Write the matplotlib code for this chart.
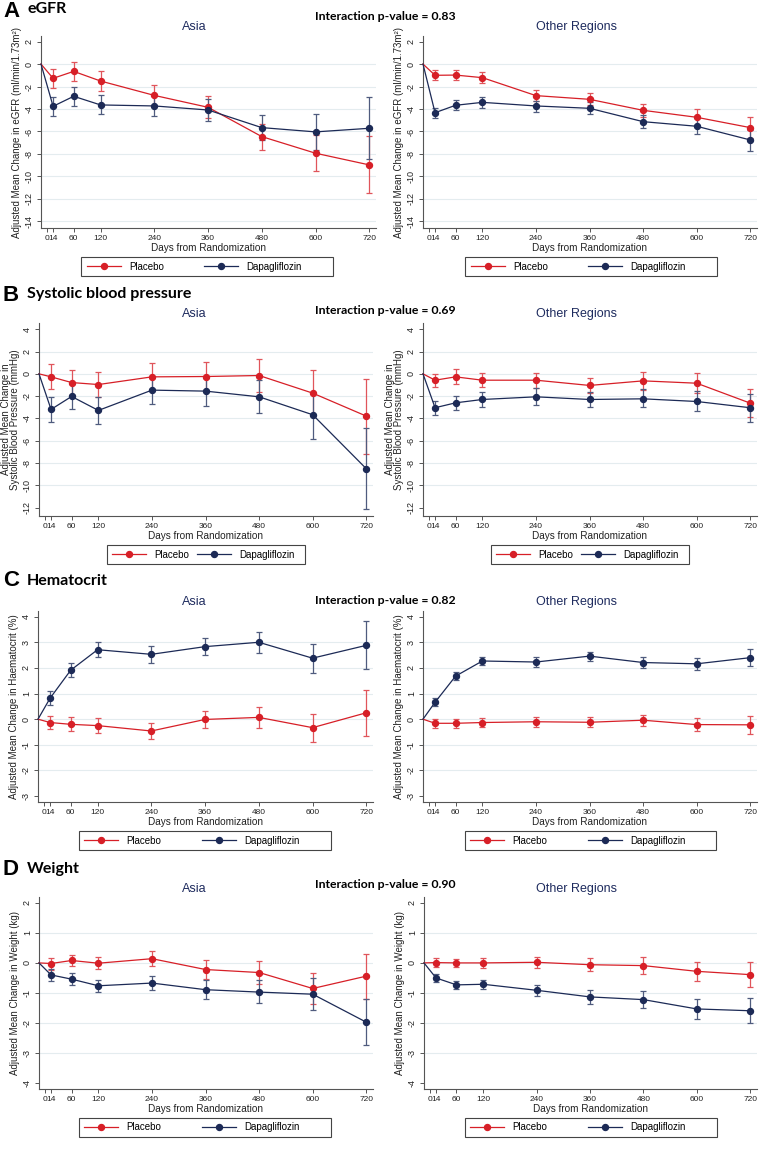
import matplotlib
matplotlib.use("Agg")
import matplotlib.pyplot as plt
from matplotlib.lines import Line2D
from matplotlib.patches import Rectangle
from matplotlib.legend import Legend
import numpy as np

# ---------------- DATA ----------------
visit_days = [14, 60, 120, 240, 360, 480, 600, 720]
baseline_day = -13
baseline_value = 0
xtick_values = [0, 14, 60, 120, 240, 360, 480, 600, 720]
arm_names = ["Placebo", "Dapagliflozin"]
region_names = ["Asia", "Other Regions"]

# eGFR
egfr_asia_pbo = [-1.27, -0.65, -1.51, -2.79, -3.85, -6.46, -7.94, -8.98]
egfr_asia_pbo_lo = [-2.13, -1.48, -2.37, -3.70, -4.80, -7.61, -9.48, -11.50]
egfr_asia_pbo_hi = [-0.44, 0.15, -0.65, -1.87, -2.87, -5.33, -6.28, -6.43]
egfr_asia_dapa = [-3.76, -2.87, -3.64, -3.73, -4.09, -5.66, -6.04, -5.72]
egfr_asia_dapa_lo = [-4.62, -3.73, -4.44, -4.62, -5.07, -6.76, -7.67, -8.44]
egfr_asia_dapa_hi = [-2.96, -2.04, -2.79, -2.76, -3.11, -4.50, -4.44, -2.96]
egfr_other_pbo = [-1.00, -0.98, -1.21, -2.81, -3.14, -4.12, -4.74, -5.66]
egfr_other_pbo_lo = [-1.45, -1.42, -1.66, -3.26, -3.67, -4.74, -5.48, -6.61]
egfr_other_pbo_hi = [-0.56, -0.53, -0.74, -2.31, -2.61, -3.53, -4.00, -4.71]
egfr_other_dapa = [-4.33, -3.67, -3.41, -3.73, -3.94, -5.13, -5.54, -6.76]
egfr_other_dapa_lo = [-4.77, -4.12, -3.88, -4.24, -4.47, -5.72, -6.22, -7.70]
egfr_other_dapa_hi = [-3.91, -3.23, -2.96, -3.26, -3.41, -4.50, -4.83, -5.90]

# Systolic blood pressure
sbp_asia_pbo = [-0.27, -0.78, -0.96, -0.27, -0.24, -0.15, -1.73, -3.79]
sbp_asia_pbo_lo = [-1.40, -1.88, -2.09, -1.40, -1.58, -1.61, -3.79, -7.19]
sbp_asia_pbo_hi = [0.84, 0.36, 0.21, 0.93, 1.10, 1.34, 0.36, -0.42]
sbp_asia_dapa = [-3.19, -2.03, -3.28, -1.46, -1.55, -2.06, -3.67, -8.51]
sbp_asia_dapa_lo = [-4.36, -3.13, -4.48, -2.69, -2.87, -3.55, -5.82, -12.09]
sbp_asia_dapa_hi = [-2.06, -0.90, -2.12, -0.33, -0.36, -0.51, -1.70, -4.87]
sbp_other_pbo = [-0.57, -0.27, -0.57, -0.57, -1.04, -0.63, -0.84, -2.63]
sbp_other_pbo_lo = [-1.22, -0.93, -1.19, -1.25, -1.76, -1.43, -1.76, -3.88]
sbp_other_pbo_hi = [0.03, 0.39, 0.09, 0.12, -0.33, 0.18, 0.09, -1.37]
sbp_other_dapa = [-3.04, -2.60, -2.30, -2.06, -2.30, -2.24, -2.48, -3.04]
sbp_other_dapa_lo = [-3.70, -3.22, -2.99, -2.75, -3.01, -3.01, -3.37, -4.33]
sbp_other_dapa_hi = [-2.42, -1.97, -1.67, -1.28, -1.64, -1.40, -1.55, -1.82]

# Hematocrit
hct_asia_pbo = [-0.13, -0.20, -0.25, -0.46, -0.01, 0.07, -0.33, 0.25]
hct_asia_pbo_lo = [-0.40, -0.48, -0.53, -0.76, -0.35, -0.35, -0.90, -0.64]
hct_asia_pbo_hi = [0.14, 0.09, 0.04, -0.16, 0.33, 0.47, 0.22, 1.12]
hct_asia_dapa = [0.82, 1.91, 2.71, 2.53, 2.83, 3.00, 2.38, 2.88]
hct_asia_dapa_lo = [0.55, 1.63, 2.42, 2.21, 2.49, 2.59, 1.82, 1.95]
hct_asia_dapa_hi = [1.11, 2.20, 3.01, 2.84, 3.18, 3.39, 2.94, 3.84]
hct_other_pbo = [-0.16, -0.16, -0.13, -0.10, -0.12, -0.04, -0.21, -0.22]
hct_other_pbo_lo = [-0.33, -0.33, -0.30, -0.29, -0.30, -0.26, -0.46, -0.56]
hct_other_pbo_hi = [0.00, 0.01, 0.04, 0.08, 0.08, 0.17, 0.04, 0.12]
hct_other_dapa = [0.66, 1.68, 2.27, 2.23, 2.46, 2.21, 2.16, 2.40]
hct_other_dapa_lo = [0.50, 1.52, 2.10, 2.05, 2.28, 2.00, 1.93, 2.06]
hct_other_dapa_hi = [0.82, 1.85, 2.44, 2.41, 2.64, 2.41, 2.40, 2.72]

# Weight
wt_asia_pbo = [-0.02, 0.08, -0.01, 0.14, -0.22, -0.32, -0.85, -0.44]
wt_asia_pbo_lo = [-0.22, -0.11, -0.21, -0.11, -0.53, -0.69, -1.36, -1.19]
wt_asia_pbo_hi = [0.17, 0.27, 0.19, 0.39, 0.08, 0.06, -0.35, 0.29]
wt_asia_dapa = [-0.40, -0.54, -0.76, -0.67, -0.89, -0.97, -1.04, -1.97]
wt_asia_dapa_lo = [-0.59, -0.73, -0.97, -0.91, -1.20, -1.33, -1.57, -2.74]
wt_asia_dapa_hi = [-0.20, -0.34, -0.56, -0.42, -0.58, -0.58, -0.51, -1.20]
wt_other_pbo = [0.01, 0.00, 0.00, 0.02, -0.06, -0.09, -0.28, -0.39]
wt_other_pbo_lo = [-0.13, -0.14, -0.16, -0.17, -0.28, -0.36, -0.61, -0.81]
wt_other_pbo_hi = [0.16, 0.13, 0.16, 0.20, 0.17, 0.20, 0.04, 0.02]
wt_other_dapa = [-0.50, -0.73, -0.71, -0.91, -1.13, -1.22, -1.53, -1.59]
wt_other_dapa_lo = [-0.63, -0.88, -0.87, -1.09, -1.36, -1.50, -1.87, -2.00]
wt_other_dapa_hi = [-0.37, -0.59, -0.57, -0.73, -0.91, -0.94, -1.20, -1.16]

panel_letters = ["A", "B", "C", "D"]
panel_titles = ["eGFR", "Systolic blood pressure", "Hematocrit", "Weight"]
interaction_p = ["0.83", "0.69", "0.82", "0.90"]
y_labels = ["Adjusted Mean Change in eGFR (ml/min/1.73m\u00b2)",
            "Adjusted Mean Change in\nSystolic Blood Pressure (mmHg)",
            "Adjusted Mean Change in Haematocrit (%)",
            "Adjusted Mean Change in Weight (kg)"]
y_ticks = [[2, 0, -2, -4, -6, -8, -10, -12, -14],
           [4, 2, 0, -2, -4, -6, -8, -10, -12],
           [4, 3, 2, 1, 0, -1, -2, -3],
           [2, 1, 0, -1, -2, -3, -4]]

panel_data = [
    [[(egfr_asia_pbo, egfr_asia_pbo_lo, egfr_asia_pbo_hi), (egfr_asia_dapa, egfr_asia_dapa_lo, egfr_asia_dapa_hi)],
     [(egfr_other_pbo, egfr_other_pbo_lo, egfr_other_pbo_hi), (egfr_other_dapa, egfr_other_dapa_lo, egfr_other_dapa_hi)]],
    [[(sbp_asia_pbo, sbp_asia_pbo_lo, sbp_asia_pbo_hi), (sbp_asia_dapa, sbp_asia_dapa_lo, sbp_asia_dapa_hi)],
     [(sbp_other_pbo, sbp_other_pbo_lo, sbp_other_pbo_hi), (sbp_other_dapa, sbp_other_dapa_lo, sbp_other_dapa_hi)]],
    [[(hct_asia_pbo, hct_asia_pbo_lo, hct_asia_pbo_hi), (hct_asia_dapa, hct_asia_dapa_lo, hct_asia_dapa_hi)],
     [(hct_other_pbo, hct_other_pbo_lo, hct_other_pbo_hi), (hct_other_dapa, hct_other_dapa_lo, hct_other_dapa_hi)]],
    [[(wt_asia_pbo, wt_asia_pbo_lo, wt_asia_pbo_hi), (wt_asia_dapa, wt_asia_dapa_lo, wt_asia_dapa_hi)],
     [(wt_other_pbo, wt_other_pbo_lo, wt_other_pbo_hi), (wt_other_dapa, wt_other_dapa_lo, wt_other_dapa_hi)]],
]

# ---------------- STYLE / LAYOUT ----------------
W, H = 768, 1150
RED = "#d71f27"
NAVY = "#1c2a56"
RED_ERR = "#e0555b"
NAVY_ERR = "#4f5b7e"
TITLE_NAVY = "#1e2b5e"
AXCOL = "#555555"
GRIDCOL = "#e4ecef"
AXFONT = "Liberation Sans"
HEADFONT = "Lato"

layout = [
    dict(y0=36, y1=228, xs=[(41, 376), (423, 757)], ylim=(-14.6, 2.5),
         leg=[(81, 333), (465, 717)], leg_off=(6, 123), letter_base=17, head_base=13,
         inter_y=16, title_y=27, grid_skip=(2,)),
    dict(y0=323, y1=516, xs=[(39, 373), (423, 757)], ylim=(-12.75, 4.56),
         leg=[(107, 305), (491, 689)], leg_off=(5, 90), letter_base=301, head_base=298,
         inter_y=311, title_y=314, grid_skip=(4, -12)),
    dict(y0=611, y1=802, xs=[(38, 373), (423, 757)], ylim=(-3.23, 4.22),
         leg=[(79, 331), (465, 716)], leg_off=(5, 123), letter_base=586, head_base=585,
         inter_y=600, title_y=602, grid_skip=(4, -3)),
    dict(y0=897, y1=1089, xs=[(39, 373), (424, 757)], ylim=(-4.19, 2.19),
         leg=[(79, 331), (465, 717)], leg_off=(5, 123), letter_base=875, head_base=873,
         inter_y=884, title_y=889, grid_skip=(2, -4)),
]
title_x = [194, 576]
xlim = (-13, 735)
LEG_GAP = 29
LEG_H = 19

fig = plt.figure(figsize=(W / 100, H / 100), dpi=100)
fig.patch.set_facecolor("white")


def fx(x):
    return x / W


def fy(y):
    return 1 - y / H


arm_colors = [RED, NAVY]
err_colors = [RED_ERR, NAVY_ERR]

for p in range(4):
    L = layout[p]
    # panel heading
    fig.text(fx(3), fy(L["letter_base"]), panel_letters[p], fontsize=16, fontweight="bold",
             family=AXFONT, va="baseline", ha="left")
    fig.text(fx(27), fy(L["head_base"]), panel_titles[p], fontsize=11.5, fontweight="bold",
             family=HEADFONT, va="baseline", ha="left")
    fig.text(fx(385.5), fy(L["inter_y"]), "Interaction p-value = " + interaction_p[p],
             fontsize=8.8, fontweight="bold", family=HEADFONT, va="center", ha="center")
    for r in range(2):
        x0, x1 = L["xs"][r]
        ax = fig.add_axes([fx(x0), fy(L["y1"]), (x1 - x0) / W, (L["y1"] - L["y0"]) / H])
        ax.set_xlim(*xlim)
        ax.set_ylim(*L["ylim"])
        for sp in ["top", "right"]:
            ax.spines[sp].set_visible(False)
        for sp in ["left", "bottom"]:
            ax.spines[sp].set_color(AXCOL)
            ax.spines[sp].set_linewidth(0.8)
        # gridlines
        for t in y_ticks[p]:
            if t in L["grid_skip"]:
                continue
            ax.axhline(t, color=GRIDCOL, lw=0.8, zorder=0)
        for a in range(2):
            mean, lo, hi = panel_data[p][r][a]
            mean = np.array(mean)
            lo = np.array(lo)
            hi = np.array(hi)
            ax.plot([baseline_day] + visit_days, [baseline_value] + list(mean),
                    color=arm_colors[a], lw=0.9, zorder=3, clip_on=False)
            ax.errorbar(visit_days, mean, yerr=[mean - lo, hi - mean], fmt="none",
                        ecolor=err_colors[a], elinewidth=0.9, capsize=2.5, capthick=0.9,
                        zorder=2, clip_on=False)
            ax.plot(visit_days, mean, "o", color=arm_colors[a], ms=4.3, zorder=4, clip_on=False)
        ax.set_xticks(xtick_values)
        ax.set_xticklabels([str(v) for v in xtick_values], family=AXFONT, fontsize=6)
        ax.set_yticks(y_ticks[p])
        ax.set_yticklabels([str(v) for v in y_ticks[p]], family=AXFONT, fontsize=6.5,
                           rotation=90, va="center")
        ax.tick_params(axis="both", colors=AXCOL, length=3, width=0.7, labelcolor="#222222", pad=2)
        ax.set_xlabel("Days from Randomization", family=AXFONT, fontsize=7.2, color="#222222", labelpad=1)
        ax.set_ylabel(y_labels[p], family=AXFONT, fontsize=7, color="#222222", labelpad=2,
                      linespacing=0.95)
        ax.patch.set_alpha(0)
        # subplot title
        fig.text(fx(title_x[r]), fy(L["title_y"]), region_names[r], fontsize=9,
                 family=AXFONT, color=TITLE_NAVY, ha="center", va="center")
        # legend: frame + two single-entry legends
        lx0, lx1 = L["leg"][r]
        ly0 = L["y1"] + LEG_GAP
        fig.add_artist(Rectangle((fx(lx0), fy(ly0 + LEG_H)), (lx1 - lx0) / W, LEG_H / H,
                                 transform=fig.transFigure, facecolor="none",
                                 edgecolor="#444444", lw=0.8, zorder=5))
        for a in range(2):
            h = Line2D([0], [0], color=arm_colors[a], lw=0.9, marker="o", ms=4.3)
            lg = Legend(ax, [h], [arm_names[a]], loc="center left",
                        bbox_to_anchor=(fx(lx0 + L["leg_off"][a]), fy(ly0 + LEG_H / 2)),
                        bbox_transform=fig.transFigure, frameon=False,
                        handlelength=3.5, borderpad=0, borderaxespad=0,
                        handletextpad=0.8, prop=dict(family=AXFONT, size=7))
            ax.add_artist(lg)

fig.savefig("out.png", dpi=100, facecolor="white")
